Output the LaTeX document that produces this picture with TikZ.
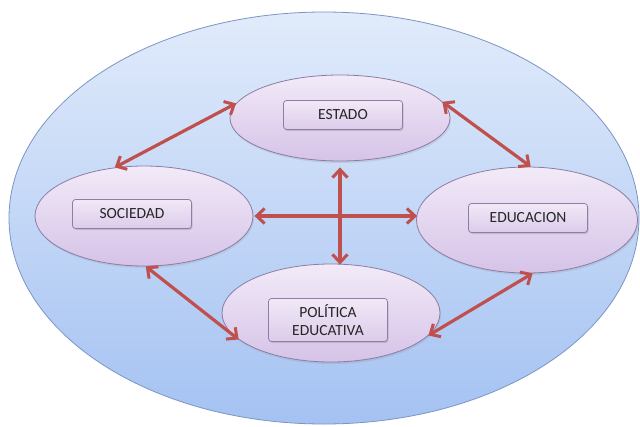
\documentclass[tikz,border=0pt]{standalone}
\usepackage{fontspec}
\setmainfont{Carlito}
\usetikzlibrary{shapes.geometric,arrows.meta,shadows}
\definecolor{outerTop}{HTML}{E1EBFB}
\definecolor{outerBot}{HTML}{A4C2F2}
\definecolor{outerLine}{HTML}{7C95C2}
\definecolor{bubTop}{HTML}{F2EAF8}
\definecolor{bubBot}{HTML}{D6C3E8}
\definecolor{bubLine}{HTML}{8C7DA3}
\definecolor{boxTop}{HTML}{F1E9F7}
\definecolor{boxBot}{HTML}{DCCBEA}
\definecolor{boxLine}{HTML}{8E7EA5}
\definecolor{linkRed}{HTML}{C0504D}
\tikzset{
  bubble/.style={ellipse, draw=bubLine, line width=0.8pt, top color=bubTop, bottom color=bubBot,
    inner sep=0pt, drop shadow={opacity=0.18, shadow xshift=1pt, shadow yshift=-2pt}},
  label box/.style={draw=boxLine, line width=0.8pt, rounded corners=3pt, top color=boxTop, bottom color=boxBot,
    minimum width=119pt, minimum height=29pt, inner sep=0pt, align=center, font=\fontsize{15.5}{18}\selectfont,
    text=black!85, drop shadow={opacity=0.3, shadow xshift=1pt, shadow yshift=-1.5pt}},
  link/.style={draw=linkRed, line width=3.2pt, {Straight Barb[length=8pt,width=15pt,line width=3pt]}-{Straight Barb[length=8pt,width=15pt,line width=3pt]}}
}
\begin{document}
\begin{tikzpicture}[x=1pt,y=-1pt]
  \useasboundingbox (0,0) rectangle (640,426);
  \fill[white] (0,0) rectangle (640,426);
  % outer field
  \node[ellipse, draw=outerLine, line width=0.8pt, top color=outerTop, bottom color=outerBot,
        minimum width=630pt, minimum height=412pt, inner sep=0pt] (outer) at (324,218) {};
  % the four bubbles
  \node[bubble, minimum width=220pt, minimum height=86pt] (est) at (340,118) {};
  \node[bubble, minimum width=218pt, minimum height=100pt] (soc) at (144,216) {};
  \node[bubble, minimum width=221pt, minimum height=106pt] (edu) at (527,220) {};
  \node[bubble, minimum width=218pt, minimum height=98pt] (pol) at (331,313) {};
  % labels
  \node[label box] (estL) at (343,115) {ESTADO};
  \node[label box] (socL) at (132,214) {SOCIEDAD};
  \node[label box] (eduL) at (528,218) {EDUCACION};
  \node[label box, minimum height=43pt] (polL) at (328,320) {POLÍTICA\\EDUCATIVA};
  % links
  \draw[link] (soc.121) -- (est.172);
  \draw[link] (est.9) -- (edu.86);
  \draw[link] (soc.-88) -- (pol.196);
  \draw[link] (edu.-84) -- (pol.-13);
  \draw[link, shorten <=1pt, shorten >=-1pt] (soc.east) -- (soc.east -| edu.west);
  \draw[link, shorten <=6pt, shorten >=-1pt] (est.south) -- (est.south |- pol.north);
\end{tikzpicture}
\end{document}
